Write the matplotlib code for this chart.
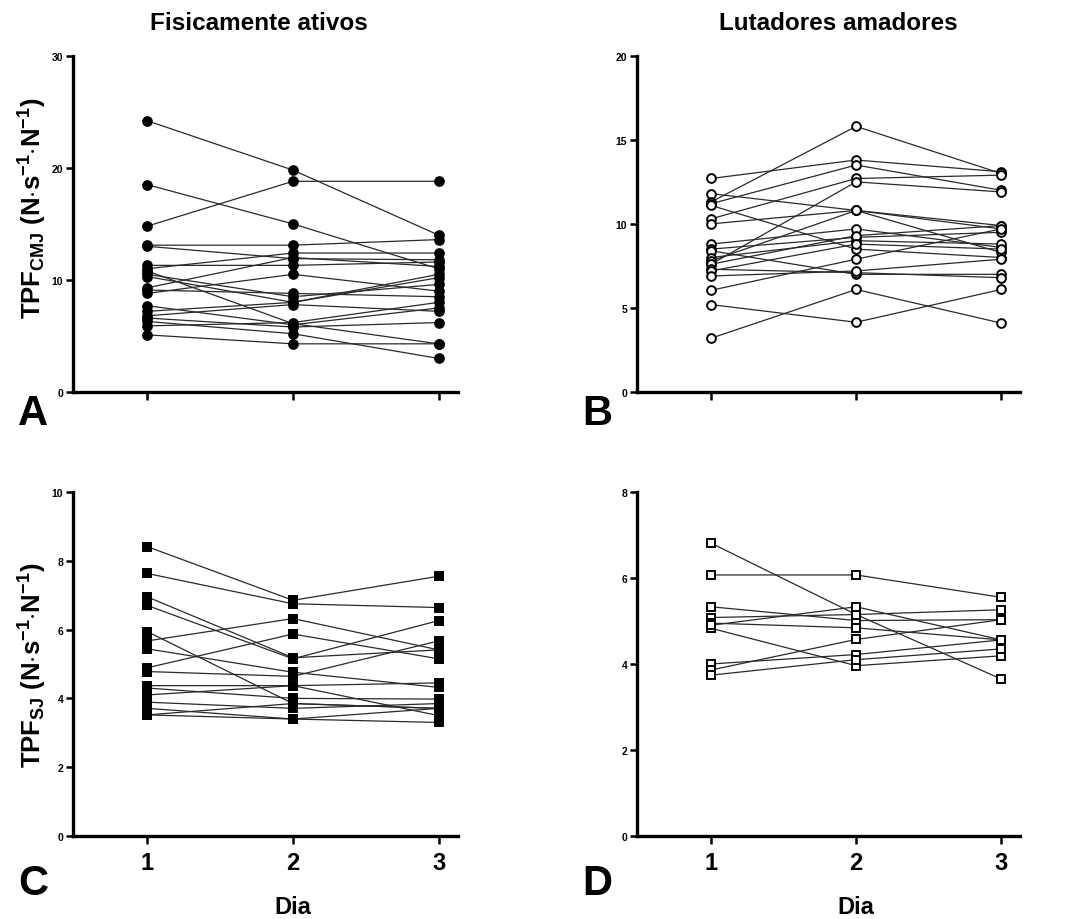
import matplotlib
matplotlib.use("Agg")
import matplotlib.pyplot as plt

plt.rcParams['font.family'] = ['Liberation Sans', 'DejaVu Sans']
plt.rcParams['mathtext.fontset'] = 'custom'
plt.rcParams['mathtext.rm'] = 'Liberation Sans:bold'
plt.rcParams['mathtext.it'] = 'Liberation Sans:bold'
plt.rcParams['mathtext.bf'] = 'Liberation Sans:bold'

dias = [1, 2, 3]

# A: Fisicamente ativos, TPF CMJ (dia 1, dia 2, dia 3)
cmj_ativos = [
    [24.2, 19.8, 14.0],
    [18.5, 15.0, 11.0],
    [14.8, 18.8, 18.8],
    [13.1, 13.1, 13.6],
    [13.0, 11.9, 11.8],
    [11.3, 11.3, 11.6],
    [11.0, 12.4, 12.4],
    [10.8, 6.1, 4.3],
    [10.5, 8.5, 9.6],
    [10.3, 8.0, 10.5],
    [9.3, 12.0, 11.2],
    [9.1, 8.8, 8.5],
    [8.8, 10.5, 9.0],
    [7.7, 6.0, 7.5],
    [7.2, 8.0, 10.2],
    [6.8, 7.8, 7.2],
    [6.6, 5.8, 6.2],
    [6.3, 5.2, 3.0],
    [5.9, 6.2, 8.0],
    [5.1, 4.3, 4.3],
]

# B: Lutadores amadores, TPF CMJ
cmj_lutadores = [
    [12.7, 13.8, 13.1],
    [11.8, 10.8, 9.9],
    [11.3, 15.8, 13.0],
    [11.2, 13.5, 12.0],
    [11.1, 8.5, 8.0],
    [10.3, 12.7, 12.9],
    [10.0, 10.8, 9.7],
    [8.8, 9.7, 8.6],
    [8.5, 9.2, 9.5],
    [8.4, 7.0, 7.0],
    [8.0, 9.0, 8.8],
    [7.8, 10.8, 8.3],
    [7.6, 12.5, 11.9],
    [7.6, 9.3, 9.9],
    [7.3, 7.1, 6.8],
    [7.2, 8.8, 8.5],
    [6.9, 7.2, 7.9],
    [6.05, 7.9, 9.7],
    [5.2, 4.15, 6.1],
    [3.2, 6.1, 4.1],
]

# C: Fisicamente ativos, TPF SJ
sj_ativos = [
    [8.41, 6.85, 7.55],
    [7.63, 6.75, 6.64],
    [6.95, 5.18, 5.41],
    [6.70, 5.15, 6.26],
    [5.94, 3.85, 3.71],
    [5.67, 6.32, 5.41],
    [5.44, 4.76, 4.32],
    [4.89, 5.87, 5.15],
    [4.78, 4.64, 5.67],
    [4.37, 4.37, 4.45],
    [4.30, 4.00, 3.98],
    [4.10, 4.37, 3.50],
    [3.89, 3.71, 3.85],
    [3.71, 3.40, 3.71],
    [3.52, 3.40, 3.30],
    [3.52, 3.85, 3.71],
]

# D: Lutadores amadores, TPF SJ
sj_lutadores = [
    [6.81, 5.15, 3.65],
    [6.07, 6.07, 5.55],
    [5.33, 5.01, 5.03],
    [5.08, 5.15, 5.26],
    [4.95, 4.84, 4.56],
    [4.83, 3.96, 4.19],
    [4.00, 4.22, 4.56],
    [3.86, 4.57, 5.03],
    [3.74, 4.10, 4.35],
    [4.90, 5.33, 4.56],
]

painel_a = (0.0678, 0.5728, 0.357, 0.3655)
painel_b = (0.5915, 0.5728, 0.3556, 0.3655)
painel_c = (0.0678, 0.0902, 0.357, 0.374)
painel_d = (0.5915, 0.0902, 0.3556, 0.374)

fig = plt.figure(figsize=(10.77, 9.2), dpi=100)


def painel(rect, dados, marker, face, ymax, yticks, bottom_row):
    ax = fig.add_axes(rect)
    for s in dados:
        ax.plot(dias, s, color='#2a2a2a', lw=0.9, marker=marker,
                markersize=6.3 if marker == 'o' else 6.0,
                markerfacecolor=face, markeredgecolor='black',
                markeredgewidth=1.4, zorder=3)
    ax.set_xlim(0.49, 3.13)
    ax.set_ylim(0, ymax)
    ax.set_yticks(yticks)
    ax.set_xticks(dias)
    for side in ['top', 'right']:
        ax.spines[side].set_visible(False)
    for side in ['left', 'bottom']:
        ax.spines[side].set_linewidth(2.4)
    ax.tick_params(axis='y', width=1.8, length=5, labelsize=7.5, pad=2)
    ax.tick_params(axis='x', width=1.8, length=6, labelsize=17, pad=5)
    for t in ax.get_yticklabels():
        t.set_fontweight('bold')
    if bottom_row:
        for t in ax.get_xticklabels():
            t.set_fontweight('bold')
        ax.set_xlabel('Dia', fontsize=17, fontweight='bold')
        ax.xaxis.set_label_coords(0.571, -0.17)
    else:
        ax.set_xticklabels([])
    return ax


ax_a = painel(painel_a, cmj_ativos, 'o', 'black', 30, [0, 10, 20, 30], False)
ax_b = painel(painel_b, cmj_lutadores, 'o', 'white', 20, [0, 5, 10, 15, 20], False)
ax_c = painel(painel_c, sj_ativos, 's', 'black', 10, [0, 2, 4, 6, 8, 10], True)
ax_d = painel(painel_d, sj_lutadores, 's', 'white', 8, [0, 2, 4, 6, 8], True)

rotulo = r'TPF$_{\mathregular{%s}}$ (N$\cdot$s$^{\mathregular{-1}}$$\cdot$N$^{\mathregular{-1}}$)'
ax_a.set_ylabel(rotulo % 'CMJ', fontsize=18.5, fontweight='bold')
ax_a.yaxis.set_label_coords(-0.062, 0.55)
ax_c.set_ylabel(rotulo % 'SJ', fontsize=18.5, fontweight='bold')
ax_c.yaxis.set_label_coords(-0.062, 0.5)

fig.text(259 / 1077, 1 - 24 / 920, 'Fisicamente ativos', fontsize=17.5,
         fontweight='bold', ha='center', va='center')
fig.text(838 / 1077, 1 - 24 / 920, 'Lutadores amadores', fontsize=17.5,
         fontweight='bold', ha='center', va='center')

for letra, x, y in [('A', 18, 425), ('B', 582, 425), ('C', 18, 895), ('D', 582, 895)]:
    fig.text(x / 1077, 1 - y / 920, letra, fontsize=30, fontweight='bold',
             ha='left', va='baseline')

fig.savefig('out.png', dpi=100)
plt.close()
